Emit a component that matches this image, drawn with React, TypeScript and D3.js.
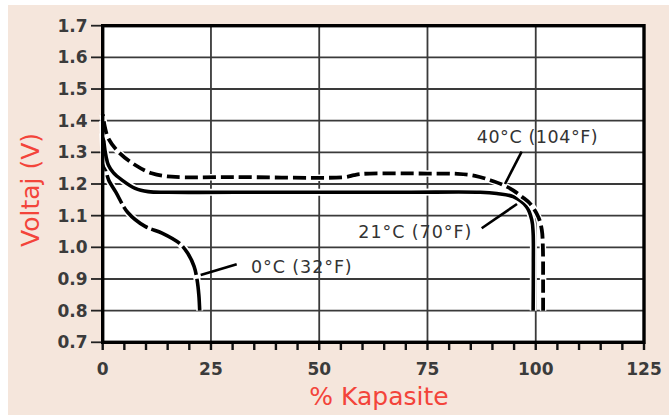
import React from "react";
import * as d3 from "d3";

const W = 669;
const H = 419;

const xTicks = [0, 25, 50, 75, 100, 125];
const xMinorTicks = d3.range(0, 126, 5);
const yTicks = [0.7, 0.8, 0.9, 1.0, 1.1, 1.2, 1.3, 1.4, 1.5, 1.6, 1.7];

// 21°C (70°F) — solid
const curve21: [number, number][] = [
  [0, 1.4], [0.3, 1.33], [0.8, 1.285], [1.3, 1.26], [2.5, 1.235], [4.4, 1.213],
  [7.5, 1.186], [10.5, 1.176], [15, 1.174], [40, 1.174], [70, 1.174], [87.2, 1.174],
  [91, 1.17], [94.8, 1.16], [97.9, 1.128], [99.1, 1.086], [99.4, 1.045],
  [99.45, 0.95], [99.4, 0.8],
];

// 40°C (104°F) — dashed
const curve40: [number, number][] = [
  [0, 1.42], [0.5, 1.38], [1.3, 1.344], [3.6, 1.302], [7.5, 1.26], [11.3, 1.234],
  [15.9, 1.223], [30, 1.222], [56, 1.222], [58, 1.228], [60, 1.232], [75, 1.233],
  [82, 1.232], [86, 1.226], [89.5, 1.212], [92.3, 1.198], [94.8, 1.18],
  [96.8, 1.16], [98.7, 1.138], [100.6, 1.096], [101.4, 1.055], [101.65, 1.0],
  [101.7, 0.9], [101.7, 0.8],
];

// 0°C (32°F) — long dashes
const curve0: [number, number][] = [
  [0, 1.36], [0.4, 1.28], [0.9, 1.235], [1.4, 1.212], [3, 1.175], [5.8, 1.11],
  [9.8, 1.066], [13.7, 1.045], [17.7, 1.013], [19.6, 0.982], [21.1, 0.94],
  [21.8, 0.897], [22.2, 0.85], [22.4, 0.8],
];

const labels = [
  { text: "40°C (104°F)", x: 476.7, y: 143, w: 121, line: [[521.7, 151.7], [505, 184]] },
  { text: "21°C (70°F)", x: 358.3, y: 238.3, w: 113, line: [[481.7, 228.3], [517, 204]] },
  { text: "0°C (32°F)", x: 251, y: 272.7, w: 100.7, line: [[236.7, 264.3], [200.7, 275]] },
];

export default function App() {
  const x = d3.scaleLinear().domain([0, 125]).range([102.7, 644]);
  const y = d3.scaleLinear().domain([0.7, 1.7]).range([342.3, 25.7]);
  const line = d3
    .line<[number, number]>()
    .x((d) => x(d[0]))
    .y((d) => y(d[1]))
    .curve(d3.curveCatmullRom.alpha(0.5));

  const font = "'DejaVu Sans', sans-serif";
  const red = "#f3443a";
  const rev = (a: [number, number][]) => a.slice().reverse();

  return (
    <svg
      width={W}
      height={H}
      style={{ position: "absolute", left: 0, top: 0, display: "block" }}
    >
      <rect x={0} y={0} width={W} height={H} fill="#ffffff" />
      <rect x={8} y={5} width={W - 8} height={410} fill="#f5e6dc" />
      {/* plot area */}
      <rect x={x(0)} y={y(1.7)} width={x(125) - x(0)} height={y(0.7) - y(1.7)} fill="#ffffff" />
      {/* grid */}
      {yTicks.slice(1, -1).map((t) => (
        <line key={"gy" + t} x1={x(0)} x2={x(125)} y1={y(t)} y2={y(t)} stroke="#3a3a3a" strokeWidth={1.8} />
      ))}
      {xTicks.slice(1, -1).map((t) => (
        <line key={"gx" + t} x1={x(t)} x2={x(t)} y1={y(0.7)} y2={y(1.7)} stroke="#3a3a3a" strokeWidth={1.8} />
      ))}
      {/* y ticks */}
      {yTicks.map((t) => (
        <g key={"yt" + t}>
          <line x1={91} x2={x(0)} y1={y(t)} y2={y(t)} stroke="#222" strokeWidth={1.8} />
          <text
            x={87.5}
            y={y(t)}
            dy="0.36em"
            textAnchor="end"
            fontFamily={font}
            fontWeight="bold"
            fontSize={17}
            fill="#3b3b3b"
          >
            {t.toFixed(1)}
          </text>
        </g>
      ))}
      {/* x minor ticks */}
      {xMinorTicks.map((t) => (
        <line key={"xm" + t} x1={x(t)} x2={x(t)} y1={y(0.7)} y2={350} stroke="#111" strokeWidth={2.4} />
      ))}
      {xTicks.map((t) => (
        <text
          key={"xt" + t}
          x={x(t)}
          y={375}
          textAnchor="middle"
          fontFamily={font}
          fontWeight="bold"
          fontSize={17}
          fill="#3b3b3b"
        >
          {t}
        </text>
      ))}
      {/* curves */}
      <path d={line(rev(curve0)) || ""} fill="none" stroke="#fff" strokeWidth={7} />
      <path d={line(rev(curve0)) || ""} fill="none" stroke="#000" strokeWidth={3.6} strokeDasharray="32,4" />
      <path d={line(curve21) || ""} fill="none" stroke="#fff" strokeWidth={7} />
      <path d={line(curve21) || ""} fill="none" stroke="#000" strokeWidth={3.6} />
      <path d={line(rev(curve40)) || ""} fill="none" stroke="#fff" strokeWidth={6.5} />
      <path d={line(rev(curve40)) || ""} fill="none" stroke="#000" strokeWidth={3.8} strokeDasharray="13,5" />
      {/* frame */}
      <rect
        x={x(0)}
        y={y(1.7)}
        width={x(125) - x(0)}
        height={y(0.7) - y(1.7)}
        fill="none"
        stroke="#000"
        strokeWidth={3.4}
      />
      {/* annotations */}
      {labels.map((l) => (
        <g key={l.text}>
          <line
            x1={l.line[0][0]}
            y1={l.line[0][1]}
            x2={l.line[1][0]}
            y2={l.line[1][1]}
            stroke="#000"
            strokeWidth={2.6}
          />
          <text
            x={l.x}
            y={l.y}
            fontFamily={font}
            fontSize={17.5}
            fill="#333"
            textLength={l.w}
            lengthAdjust="spacing"
          >
            {l.text}
          </text>
        </g>
      ))}
      {/* axis titles */}
      <text
        x={379}
        y={405}
        textAnchor="middle"
        fontFamily={font}
        fontSize={25}
        fill={red}
      >
        % Kapasite
      </text>
      <text
        transform={`translate(39,190) rotate(-90)`}
        textAnchor="middle"
        fontFamily={font}
        fontSize={25}
        fill={red}
      >
        Voltaj (V)
      </text>
    </svg>
  );
}
